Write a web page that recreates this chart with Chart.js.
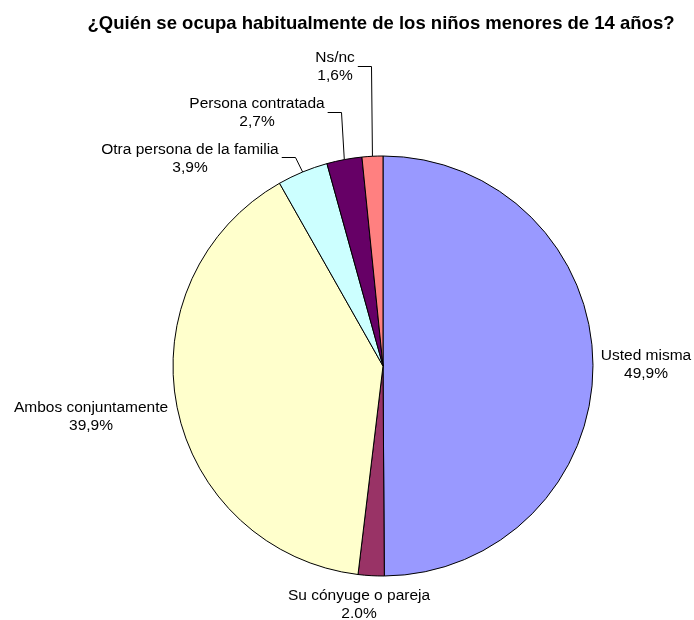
<!DOCTYPE html>
<html lang="es">
<head>
  <meta charset="utf-8">
  <title>Cuidado de los niños</title>
  <style>
    body {
      margin: 0;
      background: #fff;
    }
    #chart-container {
      width: 694px;
      height: 620px;
    }
  </style>
  <script src="https://cdn.jsdelivr.net/npm/chart.js"></script>
</head>
<body>
<div id="chart-container">
  <canvas id="pieChart" width="694" height="620"></canvas>
</div>
<script>
// Dati (senso orario dall'alto)
var categories = ['Usted misma', 'Su cónyuge o pareja', 'Ambos conjuntamente',
                  'Otra persona de la familia', 'Persona contratada', 'Ns/nc'];
var values = [49.9, 2.0, 39.9, 3.9, 2.7, 1.6];
var valueLabels = ['49,9%', '2.0%', '39,9%', '3,9%', '2,7%', '1,6%'];
var colors = ['#9999FF', '#993366', '#FFFFCC', '#CCFFFF', '#660066', '#FF8080'];

var titleText = '¿Quién se ocupa habitualmente de los niños menores de 14 años?';

// Posizione delle etichette (centro x, linea di base della prima riga) e gomito della linea guida
var labelPos = [
  { x: 646, y: 360 },
  { x: 359, y: 600 },
  { x: 91,  y: 412 },
  { x: 190, y: 154 },
  { x: 257, y: 108 },
  { x: 335, y: 62 }
];
var elbows = [null, null, null, { x: 295, y: 157 }, { x: 341, y: 112 }, { x: 371, y: 66 }];

var labelFont = '15.5px "Liberation Sans", Arial, sans-serif';
var titleFont = 'bold 18.5px "Liberation Sans", Arial, sans-serif';

// Plugin per titolo, etichette e linee guida
var labelPlugin = {
  id: 'pieLabels',
  afterDraw: function(chart) {
    var ctx = chart.ctx;
    ctx.save();
    ctx.fillStyle = '#000';
    ctx.font = titleFont;
    ctx.textAlign = 'center';
    ctx.textBaseline = 'alphabetic';
    ctx.fillText(titleText, 381, 29);

    var arcs = chart.getDatasetMeta(0).data;
    ctx.font = labelFont;
    for (var i = 0; i < arcs.length; i++) {
      var p = labelPos[i];
      ctx.fillStyle = '#000';
      ctx.fillText(categories[i], p.x, p.y);
      ctx.fillText(valueLabels[i], p.x, p.y + 18);

      if (elbows[i]) {
        var a = arcs[i];
        var mid = (a.startAngle + a.endAngle) / 2;
        var ex = a.x + Math.cos(mid) * a.outerRadius;
        var ey = a.y + Math.sin(mid) * a.outerRadius;
        var w = ctx.measureText(categories[i]).width;
        ctx.strokeStyle = '#000';
        ctx.lineWidth = 1;
        ctx.beginPath();
        ctx.moveTo(p.x + w / 2 + 3, elbows[i].y + 0.5);
        ctx.lineTo(elbows[i].x + 0.5, elbows[i].y + 0.5);
        ctx.lineTo(ex, ey);
        ctx.stroke();
      }
    }
    ctx.restore();
  }
};

var ctx = document.getElementById('pieChart').getContext('2d');
var pieChart = new Chart(ctx, {
  type: 'pie',
  data: {
    labels: categories,
    datasets: [{
      data: values,
      backgroundColor: colors,
      borderColor: '#000',
      borderWidth: 1
    }]
  },
  options: {
    responsive: false,
    animation: false,
    radius: 210,
    layout: {
      padding: { left: 173, right: 101, top: 156, bottom: 44 }
    },
    plugins: {
      legend: { display: false },
      tooltip: { enabled: false },
      title: { display: false }
    }
  },
  plugins: [labelPlugin]
});
</script>
</body>
</html>
